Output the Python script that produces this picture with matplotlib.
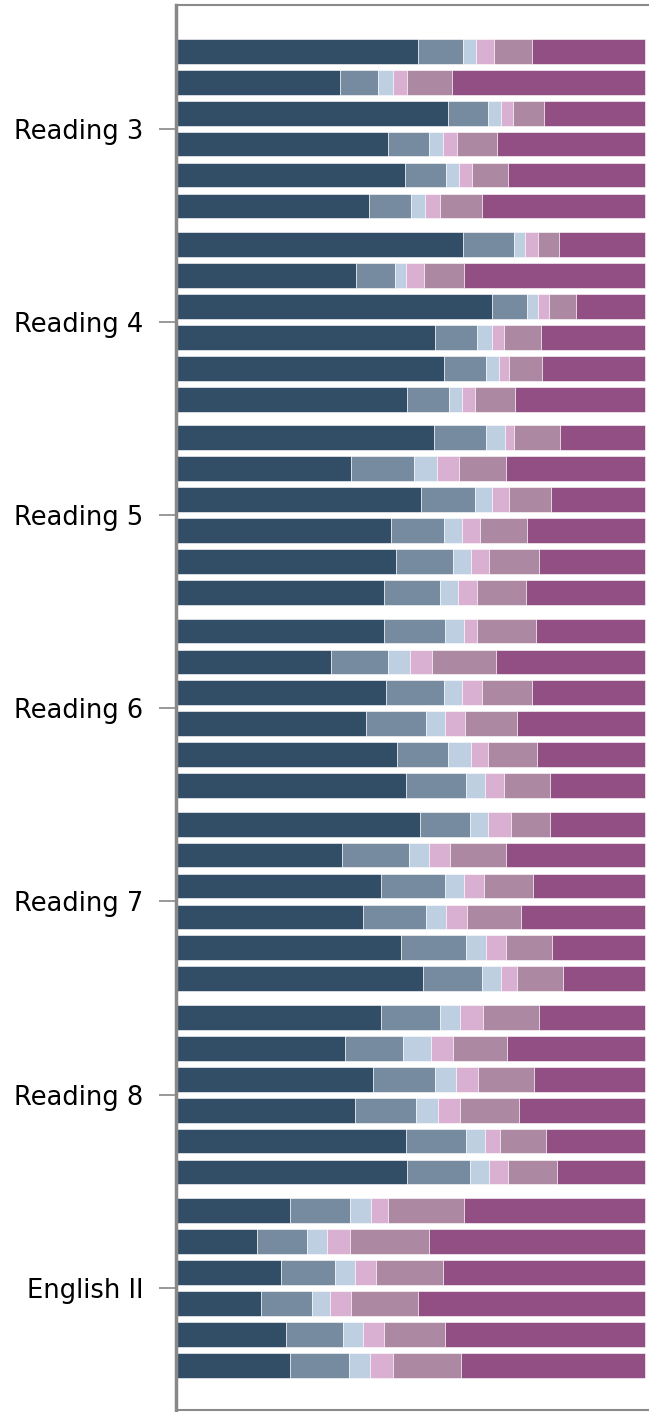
import numpy as np
import matplotlib
matplotlib.use("Agg")
import matplotlib.pyplot as plt

# Grupos (tests) y 6 barras por grupo
groups = ["Reading 3", "Reading 4", "Reading 5", "Reading 6",
          "Reading 7", "Reading 8", "English II"]

# Porcentaje de cada segmento (6 categorías) por barra
seg_values = [
    # Reading 3
    [51.5, 9.8, 2.7, 3.8, 8.0, 24.2],
    [35.0, 8.1, 3.3, 2.9, 9.6, 41.3],
    [57.9, 8.6, 2.7, 2.6, 6.6, 21.6],
    [45.3, 8.6, 3.0, 3.1, 8.5, 31.5],
    [48.8, 8.8, 2.6, 2.9, 7.6, 29.2],
    [41.1, 9.1, 2.9, 3.1, 9.0, 34.8],
    # Reading 4
    [61.3, 10.8, 2.4, 2.7, 4.6, 18.3],
    [38.3, 8.3, 2.5, 3.7, 8.6, 38.6],
    [67.5, 7.5, 2.2, 2.4, 5.8, 14.7],
    [55.2, 9.0, 3.1, 2.5, 7.9, 22.2],
    [57.1, 9.1, 2.7, 2.1, 7.1, 22.0],
    [49.4, 8.8, 2.8, 2.9, 8.5, 27.7],
    # Reading 5
    [55.1, 10.9, 4.1, 1.9, 9.8, 18.2],
    [37.3, 13.3, 5.1, 4.6, 9.9, 29.7],
    [52.2, 11.7, 3.5, 3.6, 9.1, 20.0],
    [45.8, 11.3, 3.8, 3.9, 10.0, 25.2],
    [47.0, 12.1, 3.9, 3.8, 10.5, 22.7],
    [44.3, 11.9, 3.9, 4.1, 10.3, 25.4],
    # Reading 6
    [44.3, 13.0, 4.1, 2.7, 12.5, 23.3],
    [33.1, 12.0, 4.8, 4.7, 13.5, 31.8],
    [44.8, 12.2, 3.9, 4.2, 10.8, 24.0],
    [40.6, 12.6, 4.2, 4.3, 11.1, 27.2],
    [47.2, 10.8, 4.8, 3.8, 10.3, 23.1],
    [49.0, 12.8, 4.1, 4.0, 9.9, 20.2],
    # Reading 7
    [52.0, 10.8, 3.8, 4.8, 8.5, 20.2],
    [35.5, 14.1, 4.4, 4.5, 11.9, 29.6],
    [43.8, 13.5, 4.1, 4.2, 10.6, 23.8],
    [39.9, 13.3, 4.3, 4.4, 11.5, 26.5],
    [47.9, 14.0, 4.3, 4.2, 9.8, 19.8],
    [52.7, 12.5, 4.1, 3.4, 9.8, 17.5],
    # Reading 8
    [43.8, 12.5, 4.3, 4.9, 11.8, 22.7],
    [36.1, 12.3, 5.9, 4.8, 11.4, 29.5],
    [41.9, 13.3, 4.4, 4.8, 11.8, 23.7],
    [38.2, 13.0, 4.6, 4.7, 12.5, 26.9],
    [49.0, 12.8, 4.1, 3.3, 9.7, 21.2],
    [49.3, 13.4, 4.1, 4.0, 10.5, 18.8],
    # English II
    [24.4, 12.7, 4.4, 3.7, 16.2, 38.6],
    [17.2, 10.8, 4.1, 5.1, 16.8, 46.0],
    [22.5, 11.5, 4.3, 4.4, 14.2, 43.2],
    [18.1, 10.8, 3.9, 4.6, 14.3, 48.3],
    [23.5, 12.1, 4.2, 4.5, 13.1, 42.6],
    [24.3, 12.5, 4.6, 4.8, 14.5, 39.2],
]

colors = ["#324e67", "#768ba0", "#bdcfe0", "#d9b0d1", "#ad88a3", "#924f83"]

vals = np.array(seg_values)
vals = vals / vals.sum(axis=1, keepdims=True)

bars_per_group = 6
group_step = 6.25
y = np.array([g * group_step + j for g in range(len(groups))
              for j in range(bars_per_group)])

fig = plt.figure(figsize=(6.49, 14.12), dpi=100)
ax = fig.add_axes([176 / 649, 1 - 1410 / 1412, (649 - 176) / 649, (1410 - 5) / 1412])

left = np.zeros(len(y))
for k in range(vals.shape[1]):
    ax.barh(y, vals[:, k], left=left, height=0.8, color=colors[k],
            edgecolor="white", linewidth=0.4)
    left += vals[:, k]

# las barras terminan un poco antes del borde derecho
ax.set_xlim(0, 473 / 469)
ax.set_ylim(43.95, -1.5)
ax.set_xticks([])
ax.set_yticks([g * group_step + 2.5 for g in range(len(groups))])
ax.set_yticklabels(groups, fontsize=18.5)
ax.tick_params(axis="y", length=12, width=1.2, color="#888888", pad=11.5)

ax.spines["right"].set_visible(False)
for side in ["top", "bottom"]:
    ax.spines[side].set_color("#8a8a8a")
    ax.spines[side].set_linewidth(1.5)
ax.spines["left"].set_color("#888888")
ax.spines["left"].set_linewidth(2.5)

fig.savefig("out.png", dpi=100)
